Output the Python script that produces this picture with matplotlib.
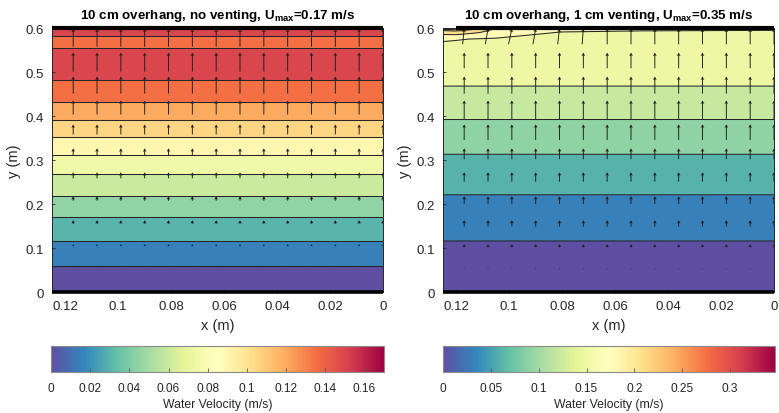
import numpy as np
import matplotlib
matplotlib.use("Agg")
import matplotlib.pyplot as plt
from matplotlib.colors import Normalize
from matplotlib.cm import ScalarMappable
from matplotlib.ticker import FuncFormatter

plt.rcParams["font.family"] = ["Liberation Sans", "DejaVu Sans"]
plt.rcParams["mathtext.fontset"] = "custom"
plt.rcParams["mathtext.rm"] = "Liberation Sans"
plt.rcParams["mathtext.bf"] = "Liberation Sans:bold"

# ---------------- data ----------------
domain_x = [0.0, 0.125]
domain_y = [0.0, 0.6]

# Case 1: no venting -> horizontally uniform velocity profile
left_title = r"10 cm overhang, no venting, U$_{\mathbf{max}}$=0.17 m/s"
left_umax = 0.17
left_profile_y = [0.0, 0.058, 0.115, 0.170, 0.219, 0.268, 0.311, 0.352,
                  0.392, 0.431, 0.482, 0.520, 0.554, 0.568, 0.581, 0.600]
left_profile_u = [0.0, 0.015, 0.030, 0.045, 0.060, 0.075, 0.090, 0.105,
                  0.120, 0.135, 0.150, 0.158, 0.150, 0.145, 0.150, 0.156]
left_levels = [0.0, 0.015, 0.030, 0.045, 0.060, 0.075, 0.090, 0.105,
               0.120, 0.135, 0.150, 0.165, 0.180]
left_cbar_ticks = [0, 0.02, 0.04, 0.06, 0.08, 0.1, 0.12, 0.14, 0.16]

# Case 2: 1 cm venting -> field bends near the vent (top-left corner)
right_title = r"10 cm overhang, 1 cm venting, U$_{\mathbf{max}}$=0.35 m/s"
right_umax = 0.347
right_grid_x = [0.0, 0.05, 0.08, 0.095, 0.105, 0.112, 0.118, 0.121, 0.125]
right_grid_y = [0.0, 0.116, 0.221, 0.313, 0.392, 0.468, 0.55, 0.575, 0.59, 0.597, 0.6]
right_field = [
    [0.000, 0.000, 0.000, 0.000, 0.000, 0.000, 0.000, 0.000, 0.000],
    [0.030, 0.030, 0.030, 0.030, 0.030, 0.030, 0.030, 0.030, 0.030],
    [0.060, 0.060, 0.060, 0.060, 0.060, 0.060, 0.060, 0.060, 0.060],
    [0.090, 0.090, 0.090, 0.090, 0.090, 0.090, 0.090, 0.090, 0.090],
    [0.120, 0.120, 0.120, 0.120, 0.120, 0.120, 0.120, 0.120, 0.120],
    [0.150, 0.150, 0.150, 0.150, 0.150, 0.150, 0.150, 0.150, 0.150],
    [0.168, 0.168, 0.168, 0.168, 0.168, 0.168, 0.168, 0.169, 0.170],
    [0.171, 0.171, 0.172, 0.174, 0.177, 0.179, 0.181, 0.182, 0.183],
    [0.176, 0.177, 0.179, 0.186, 0.200, 0.212, 0.222, 0.225, 0.222],
    [0.182, 0.183, 0.186, 0.195, 0.205, 0.235, 0.255, 0.258, 0.252],
    [0.190, 0.190, 0.190, 0.200, 0.220, 0.240, 0.250, 0.020, 0.010],
]
right_levels = [0.0, 0.03, 0.06, 0.09, 0.12, 0.15, 0.18, 0.21, 0.24,
                0.27, 0.30, 0.33, 0.36]
right_cbar_ticks = [0, 0.05, 0.1, 0.15, 0.2, 0.25, 0.3]

# Velocity vectors (vertical component per row, m/s)
arrow_x = [0.0, 0.009, 0.018, 0.027, 0.036, 0.045, 0.054,
           0.063, 0.072, 0.081, 0.090, 0.099, 0.108, 0.117]
arrow_y = [0.0544, 0.1088, 0.1632, 0.2176, 0.2720, 0.3264,
           0.3808, 0.4352, 0.4896, 0.5440, 0.5984]
left_arrow_v = [0.004, 0.017, 0.030, 0.038, 0.051, 0.060,
                0.085, 0.119, 0.145, 0.161, 0.153]
right_arrow_v = [0.004, 0.012, 0.025, 0.031, 0.037, 0.043,
                 0.062, 0.074, 0.068, 0.062, 0.062]
right_top_row_u = [0, 0, 0, 0, 0, 0, 0, 0, -0.0008, -0.0012,
                   -0.0018, -0.0022, -0.0018, -0.0010]

# Solid walls (x extent at top and bottom)
left_top_wall = [0.0, 0.125]
right_top_wall = [0.0, 0.120]
bottom_wall = [0.0, 0.125]

xticks = [0.12, 0.1, 0.08, 0.06, 0.04, 0.02, 0]
yticks = [0, 0.1, 0.2, 0.3, 0.4, 0.5, 0.6]

# ---------------- drawing ----------------
W, H = 779, 414
fig = plt.figure(figsize=(W / 100, H / 100), dpi=100)
cmap = plt.get_cmap("Spectral_r")
gfmt = FuncFormatter(lambda v, p: "%g" % v)
dark = "#262626"


def panel(ax_rect, cax_rect, X, Y, Z, levels, umax, title, vrows, top_u,
          top_wall, qscale, cticks):
    ax = fig.add_axes([ax_rect[0] / W, 1 - ax_rect[3] / H,
                       (ax_rect[2] - ax_rect[0]) / W,
                       (ax_rect[3] - ax_rect[1]) / H])
    norm = Normalize(0, umax)
    band_colors = [cmap(norm(v)) for v in levels[:-1]]
    ax.contourf(X, Y, Z, levels=levels, colors=band_colors, antialiased=True)
    ax.contour(X, Y, Z, levels=levels[1:-1], colors=dark, linewidths=0.75)

    QX, QY = np.meshgrid(arrow_x, arrow_y)
    V = np.repeat(np.asarray(vrows)[:, None], len(arrow_x), axis=1)
    U = np.zeros_like(V)
    U[-1, :] = top_u
    ax.quiver(QX, QY, U, V, pivot="tip", angles="xy", scale_units="xy",
              scale=qscale, color="#1e1e1e", width=0.0028, headwidth=4,
              headlength=3.5, headaxislength=3.0, minlength=0.6, zorder=3)

    ax.plot(top_wall, [domain_y[1]] * 2, color="k", lw=3.0,
            solid_capstyle="butt", clip_on=False, zorder=5)
    ax.plot(bottom_wall, [domain_y[0]] * 2, color="k", lw=2.6,
            solid_capstyle="butt", clip_on=False, zorder=5)

    ax.set_xlim(domain_x[1], domain_x[0])
    ax.set_ylim(domain_y)
    ax.set_xticks(xticks)
    ax.set_yticks(yticks)
    ax.xaxis.set_major_formatter(gfmt)
    ax.yaxis.set_major_formatter(gfmt)
    ax.tick_params(direction="in", length=2.5, width=0.6, colors=dark,
                   labelsize=9.5, pad=6)
    for s in ax.spines.values():
        s.set_color(dark)
        s.set_linewidth(0.7)
    ax.set_xlabel("x (m)", fontsize=10.5, color=dark, labelpad=4)
    ax.set_ylabel("y (m)", fontsize=10.5, color=dark, labelpad=3)
    ax.set_title(title, fontsize=9.6, fontweight="bold", color="k", pad=7)

    cax = fig.add_axes([cax_rect[0] / W, 1 - cax_rect[3] / H,
                        (cax_rect[2] - cax_rect[0]) / W,
                        (cax_rect[3] - cax_rect[1]) / H])
    cb = fig.colorbar(ScalarMappable(norm=norm, cmap=cmap), cax=cax,
                      orientation="horizontal")
    cb.set_ticks(cticks)
    cb.ax.xaxis.set_major_formatter(gfmt)
    cb.outline.set_edgecolor("#8a8a8a")
    cb.outline.set_linewidth(0.8)
    cax.tick_params(direction="in", length=3, width=0.6, colors="#555555",
                    labelcolor=dark, labelsize=8.6, pad=7)
    cb.set_label("Water Velocity (m/s)", fontsize=8.8, color=dark, labelpad=3)
    return ax


LX, LY = np.meshgrid(domain_x, left_profile_y)
LZ = np.repeat(np.asarray(left_profile_u)[:, None], 2, axis=1)
panel((52, 29, 383, 293), (51, 347, 384, 373), LX, LY, LZ, left_levels,
      left_umax, left_title, left_arrow_v, [0] * len(arrow_x),
      left_top_wall, 3.74, left_cbar_ticks)

RX, RY = np.meshgrid(right_grid_x, right_grid_y)
RZ = np.asarray(right_field)
panel((443, 29, 774, 293), (443, 347, 775, 373), RX, RY, RZ, right_levels,
      right_umax, right_title, right_arrow_v, right_top_row_u,
      right_top_wall, 1.75, right_cbar_ticks)

fig.savefig("out.png", dpi=100)
